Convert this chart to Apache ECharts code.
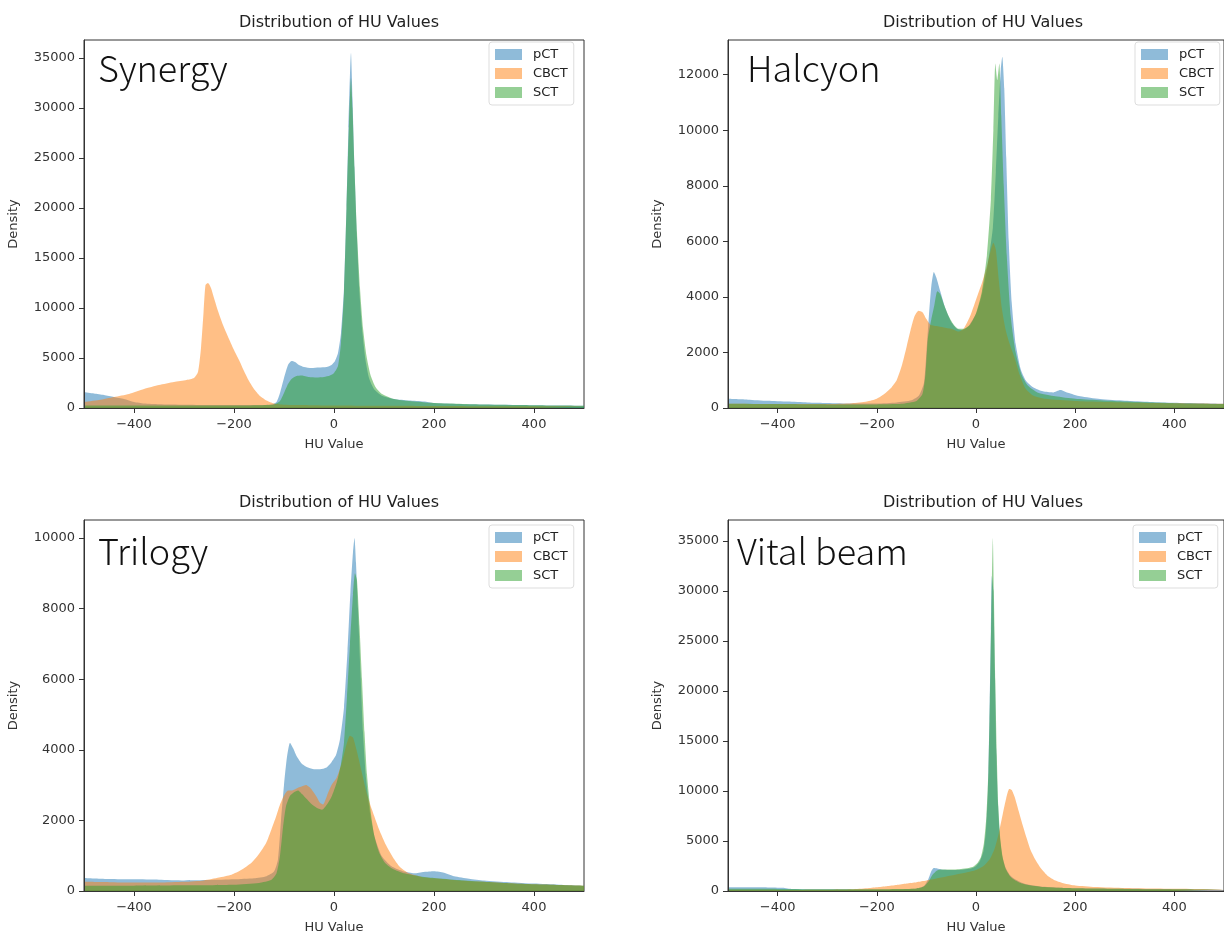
<!doctype html>
<html>
<head>
<meta charset="utf-8">
<title>Distribution of HU Values</title>
<script src="https://cdn.jsdelivr.net/npm/echarts@6/dist/echarts.min.js"></script>
<style>
html, body { margin: 0; padding: 0; background: #fff; }
#chart { width: 1224px; height: 936px; }
</style>
</head>
<body>
<div id="chart"></div>
<script>
// tick positions
var huTicks = [-400, -200, 0, 200, 400];
var synergyTicks = [0, 5000, 10000, 15000, 20000, 25000, 30000, 35000];
var halcyonTicks = [0, 2000, 4000, 6000, 8000, 10000, 12000];
var trilogyTicks = [0, 2000, 4000, 6000, 8000, 10000];
var vitalTicks = [0, 5000, 10000, 15000, 20000, 25000, 30000, 35000];

// [HU, density]
var synergyPct = [[-500,1600],[-480,1450],[-460,1300],[-440,1100],[-420,900],[-400,600],[-380,450],[-350,380],[-300,330],[-250,300],[-200,290],[-150,300],[-125,350],[-115,600],[-108,1500],[-100,3000],[-92,4300],[-85,4700],[-78,4600],[-70,4300],[-60,4100],[-45,4000],[-30,4050],[-15,4100],[-5,4300],[2,4700],[8,5500],[14,7500],[20,12000],[25,20000],[29,28000],[34,35500],[37,31000],[41,24000],[46,17000],[51,11500],[57,7500],[63,4800],[70,3000],[80,1900],[95,1250],[120,900],[150,750],[180,650],[200,500],[250,400],[300,350],[400,280],[500,230]];
var synergyCbct = [[-500,600],[-470,800],[-440,1100],[-410,1400],[-380,1900],[-350,2300],[-320,2600],[-295,2800],[-280,3000],[-272,3600],[-266,6000],[-261,9500],[-257,12300],[-252,12500],[-246,12000],[-240,11000],[-232,9700],[-222,8300],[-210,6900],[-200,5800],[-190,4800],[-180,3700],[-170,2700],[-160,1900],[-148,1200],[-135,750],[-120,450],[-100,320],[-50,280],[0,250],[100,220],[200,200],[300,180],[400,170],[500,160]];
var synergySct = [[-500,250],[-400,250],[-300,250],[-200,250],[-150,280],[-120,350],[-108,700],[-100,1500],[-92,2400],[-85,2900],[-75,3200],[-65,3250],[-50,3100],[-35,3050],[-20,3100],[-8,3250],[0,3500],[8,4200],[14,6500],[20,11500],[25,20000],[30,28500],[34,33000],[37,30000],[41,24000],[46,17500],[52,12000],[58,8000],[65,5200],[73,3300],[83,2100],[96,1400],[120,900],[150,700],[200,500],[300,350],[400,280],[500,230]];

var halcyonPct = [[-500,330],[-460,300],[-420,260],[-380,230],[-340,200],[-300,180],[-250,160],[-200,160],[-160,200],[-130,280],[-115,450],[-105,900],[-100,2000],[-95,3300],[-90,4400],[-85,4900],[-80,4700],[-72,4200],[-62,3600],[-50,3100],[-38,2850],[-28,2800],[-15,2950],[0,3400],[12,4100],[24,5200],[34,6500],[40,8500],[45,10500],[50,12200],[53,12650],[57,11500],[61,9000],[66,6000],[72,3800],[80,2300],[90,1400],[100,1000],[115,750],[135,600],[155,560],[170,650],[185,550],[210,420],[250,320],[300,260],[350,220],[400,190],[450,170],[500,150]];
var halcyonCbct = [[-500,150],[-400,140],[-300,140],[-250,170],[-220,230],[-200,330],[-185,500],[-170,750],[-160,1000],[-150,1500],[-140,2200],[-132,2800],[-124,3300],[-116,3500],[-108,3450],[-100,3200],[-92,3000],[-80,2950],[-65,2900],[-50,2850],[-35,2750],[-25,2850],[-12,3300],[0,3900],[12,4500],[22,5100],[30,5700],[35,5950],[40,5700],[46,4600],[52,3600],[60,2800],[68,2300],[78,1800],[88,1200],[100,700],[115,450],[140,330],[200,250],[300,200],[400,170],[500,150]];
var halcyonSct = [[-500,150],[-400,140],[-300,130],[-200,130],[-150,150],[-120,250],[-108,500],[-102,1200],[-97,2500],[-90,3200],[-84,3700],[-78,4200],[-72,4100],[-64,3700],[-55,3300],[-45,3000],[-35,2850],[-25,2850],[-12,3000],[0,3400],[12,4200],[22,5500],[30,7500],[35,10000],[39,12400],[43,11800],[47,12400],[51,10500],[56,8000],[62,5500],[70,3300],[80,2000],[92,1200],[105,800],[125,550],[160,420],[200,330],[300,230],[400,170],[500,140]];

var trilogyPct = [[-500,370],[-450,340],[-400,330],[-350,320],[-300,300],[-250,310],[-200,330],[-160,360],[-135,420],[-120,550],[-112,900],[-106,2000],[-100,3000],[-94,3800],[-88,4200],[-82,4050],[-74,3800],[-64,3600],[-52,3500],[-40,3450],[-28,3450],[-15,3500],[-5,3650],[4,3850],[12,4300],[20,5200],[27,6800],[33,8500],[38,9600],[41,10000],[44,9300],[48,8000],[53,6200],[58,4500],[64,3200],[72,2200],[82,1500],[95,1000],[115,700],[140,550],[160,500],[180,540],[200,560],[220,520],[240,420],[270,350],[300,300],[350,250],[400,210],[450,180],[500,150]];
var trilogyCbct = [[-500,260],[-450,250],[-400,240],[-350,240],[-300,260],[-260,300],[-230,380],[-205,460],[-185,600],[-165,800],[-150,1050],[-136,1350],[-125,1750],[-116,2100],[-108,2450],[-100,2700],[-92,2850],[-84,2850],[-76,2900],[-66,2950],[-56,3000],[-46,2900],[-36,2700],[-28,2500],[-22,2450],[-14,2700],[-5,3000],[5,3200],[15,3600],[24,4100],[32,4400],[38,4350],[45,4000],[55,3400],[65,2800],[76,2300],[90,1750],[104,1300],[118,950],[132,680],[150,500],[175,400],[200,360],[250,300],[300,260],[350,220],[400,190],[450,170],[500,150]];
var trilogySct = [[-500,150],[-400,150],[-300,160],[-200,180],[-150,230],[-125,320],[-115,500],[-108,1000],[-102,1800],[-96,2400],[-88,2700],[-80,2800],[-72,2850],[-64,2750],[-54,2600],[-44,2450],[-34,2350],[-24,2300],[-14,2450],[-4,2700],[6,3100],[14,3600],[20,4200],[26,5500],[32,7000],[38,8400],[42,9000],[46,8800],[51,7500],[56,6000],[61,4500],[66,3300],[72,2400],[80,1600],[90,1100],[102,800],[118,620],[140,500],[170,420],[200,370],[250,310],[300,260],[350,220],[400,190],[450,170],[500,150]];

var vitalPct = [[-500,380],[-460,370],[-420,360],[-390,330],[-370,200],[-300,170],[-250,160],[-200,160],[-150,180],[-120,250],[-105,500],[-96,1200],[-90,2000],[-85,2300],[-78,2250],[-70,2150],[-55,2100],[-40,2100],[-25,2150],[-10,2250],[0,2500],[8,3000],[15,4000],[20,6000],[24,10000],[27,17000],[30,26000],[32,31500],[35,30000],[38,22000],[41,14000],[44,9000],[48,5500],[53,3500],[60,2300],[70,1500],[85,1000],[100,700],[130,450],[170,330],[200,280],[300,220],[400,180],[500,150]];
var vitalCbct = [[-500,120],[-400,110],[-300,130],[-250,180],[-220,280],[-200,380],[-180,480],[-160,600],[-140,750],[-120,880],[-100,1050],[-80,1250],[-60,1450],[-40,1650],[-20,1850],[0,2100],[15,2500],[28,3200],[38,4300],[46,5800],[54,7700],[61,9300],[67,10200],[72,10100],[78,9400],[86,8000],[94,6600],[102,5300],[110,4100],[120,3100],[132,2200],[145,1500],[160,1050],[178,750],[200,550],[240,400],[300,300],[400,220],[500,180]];
var vitalSct = [[-500,220],[-400,210],[-300,180],[-200,170],[-150,190],[-120,260],[-105,450],[-95,1000],[-88,1600],[-80,2000],[-72,2150],[-60,2150],[-45,2150],[-30,2200],[-15,2300],[-5,2450],[3,2800],[10,3400],[16,4800],[21,7500],[25,12000],[28,19000],[31,28000],[34,35300],[36,30000],[39,21000],[42,13500],[45,8500],[49,5200],[54,3300],[60,2200],[70,1400],[85,900],[100,650],[130,430],[170,320],[200,270],[300,210],[400,170],[500,140]];

var seriesNames = ['pCT', 'CBCT', 'SCT'];
var seriesColors = ['rgba(31,119,180,0.5)', 'rgba(255,127,14,0.5)', 'rgba(44,160,44,0.5)'];

var panels = [
    { label: 'Synergy',    data: [synergyPct, synergyCbct, synergySct], ticks: synergyTicks, yMax: 36800,
      left: 84,  top: 40,  width: 500, height: 368, labelAt: [98, 50],   legendAt: [489, 42] },
    { label: 'Halcyon',    data: [halcyonPct, halcyonCbct, halcyonSct], ticks: halcyonTicks, yMax: 13250,
      left: 728, top: 40,  width: 504, height: 368, labelAt: [747, 50],  legendAt: [1135, 42] },
    { label: 'Trilogy',    data: [trilogyPct, trilogyCbct, trilogySct], ticks: trilogyTicks, yMax: 10510,
      left: 84,  top: 520, width: 500, height: 371, labelAt: [98, 533],  legendAt: [489, 525] },
    { label: 'Vital beam', data: [vitalPct, vitalCbct, vitalSct],       ticks: vitalTicks,   yMax: 37100,
      left: 728, top: 520, width: 504, height: 371, labelAt: [737, 533], legendAt: [1133, 525] }
];

var font = 'DejaVu Sans';
var plain = function (v) { return String(v).replace('-', '\u2212'); };

var grid = [], xAxis = [], yAxis = [], title = [], legend = [], graphic = [], series = [];

panels.forEach(function (p, i) {
    grid.push({ left: p.left, top: p.top, width: p.width, height: p.height,
        show: true, borderColor: '#333', borderWidth: 1, backgroundColor: 'transparent' });

    title.push({ text: 'Distribution of HU Values', left: p.left + 250, top: p.top - 30, textAlign: 'center',
        textStyle: { fontFamily: font, fontSize: 16, fontWeight: 'normal', color: '#222' } });

    xAxis.push({ type: 'value', gridIndex: i, min: -500, max: 500, z: 10,
        name: 'HU Value', nameLocation: 'middle', nameGap: 30,
        nameTextStyle: { fontFamily: font, fontSize: 13, color: '#333' },
        axisLine: { show: true, onZero: false, lineStyle: { color: '#333', width: 1 } },
        axisTick: { show: true, length: 5, customValues: huTicks, lineStyle: { color: '#333' } },
        axisLabel: { customValues: huTicks, margin: 10, fontFamily: font, fontSize: 13, color: '#333', formatter: plain },
        splitLine: { show: false } });

    yAxis.push({ type: 'value', gridIndex: i, min: 0, max: p.yMax, z: 10,
        name: 'Density', nameLocation: 'middle', nameGap: 64,
        nameTextStyle: { fontFamily: font, fontSize: 13, color: '#333' },
        axisLine: { show: true, onZero: false, lineStyle: { color: '#333', width: 1 } },
        axisTick: { show: true, length: 5, customValues: p.ticks, lineStyle: { color: '#333' } },
        axisLabel: { customValues: p.ticks, margin: 9, fontFamily: font, fontSize: 13, color: '#333', formatter: plain },
        splitLine: { show: false } });

    legend.push({ data: seriesNames, orient: 'vertical', left: p.legendAt[0], top: p.legendAt[1],
        icon: 'rect', itemWidth: 27, itemHeight: 11, itemGap: 6,
        backgroundColor: '#fff', borderColor: '#ddd', borderWidth: 1, borderRadius: 3,
        padding: [6, 6, 6, 6], selectedMode: false,
        textStyle: { fontFamily: font, fontSize: 13, color: '#222', padding: [0, 0, 0, 6] } });

    graphic.push({ type: 'text', left: p.labelAt[0], top: p.labelAt[1], z: 20,
        style: { text: p.label, fontFamily: 'Noto Sans CJK SC', fontWeight: 300, fontSize: 36, fill: '#111' } });

    p.data.forEach(function (d, k) {
        series.push({ name: seriesNames[k], type: 'line', xAxisIndex: i, yAxisIndex: i,
            data: d, showSymbol: false, symbol: 'none', smooth: 0.2,
            color: seriesColors[k],
            lineStyle: { width: 0 },
            areaStyle: { color: seriesColors[k], opacity: 1 },
            silent: true });
    });
});

var myChart = echarts.init(document.getElementById('chart'));
myChart.setOption({
    animation: false,
    backgroundColor: '#fff',
    title: title,
    legend: legend,
    grid: grid,
    xAxis: xAxis,
    yAxis: yAxis,
    graphic: graphic,
    series: series
});
</script>
</body>
</html>
